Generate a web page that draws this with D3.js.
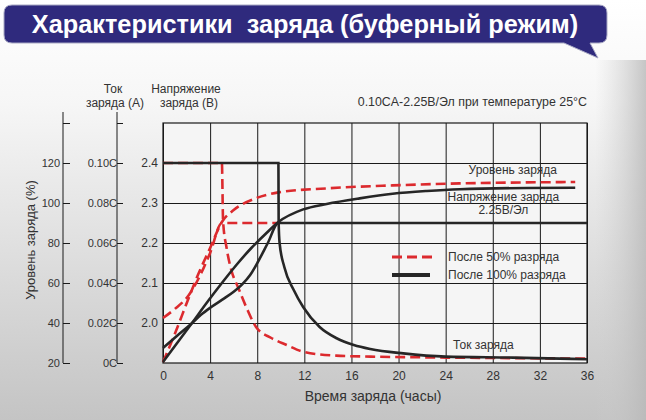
<!DOCTYPE html>
<html>
<head>
<meta charset="utf-8">
<script src="https://cdn.jsdelivr.net/npm/d3@7"></script>
<style>
  body { margin: 0; background: #fff; }
  svg { display: block; font-family: "Liberation Sans", Arial, sans-serif; }
</style>
</head>
<body>
<div id="chart"></div>
<script>
// Tick values for the three left axes and the time axis
const hourTicks = [0, 4, 8, 12, 16, 20, 24, 28, 32, 36];
const socTicks = [20, 40, 60, 80, 100, 120, 140];
const currentTicks = [0, 0.02, 0.04, 0.06, 0.08, 0.10, 0.12];
const currentLabels = ["0C", "0.02C", "0.04C", "0.06C", "0.08C", "0.10C", ""];
const voltTicks = [2.0, 2.1, 2.2, 2.3, 2.4];

// After 100% discharge (black solid): [hours, value]
const soc100 = [[0, 20.5], [1.2, 30], [2.4, 39.5], [3.7, 50], [5, 60], [6.3, 69.5], [7.5, 77.5],
    [8.7, 84.5], [9.8, 90.5], [11.9, 96.8], [13.9, 99.5], [16.7, 102.3], [19.5, 104.6],
    [22.4, 106], [25.2, 106.9], [30.9, 107.5], [35, 107.6]];
const volt100 = [[0, 1.9375], [1.2, 1.968], [2.4, 1.998], [3.2, 2.02], [4.1, 2.04], [5.2, 2.0615],
    [6, 2.078], [6.7, 2.096], [7.4, 2.12], [8.1, 2.155], [8.9, 2.2], [9.8, 2.25], [36, 2.25]];
const cur100 = [[0, 0.1], [9.8, 0.1], [9.82, 0.07], [9.9, 0.06], [10.3, 0.048], [11.1, 0.0365],
    [11.9, 0.028], [13.3, 0.018], [14.7, 0.0125], [16.2, 0.009], [17.6, 0.007], [20.4, 0.0048],
    [24, 0.0032], [29.7, 0.0027], [36, 0.0019]];

// After 50% discharge (red dashed)
const soc50 = [[0, 20.5], [1, 34.5], [2.15, 52], [3, 64.5], [4, 77.5], [5, 90.5], [6, 96.5],
    [7.8, 102.2], [9.8, 105.3], [13.9, 107.3], [19.5, 108.8], [25.2, 109.8], [30.9, 110.3], [35, 110.5]];
const volt50 = [[0, 2.0125], [1, 2.035], [2.15, 2.068], [3, 2.11], [4, 2.175], [5, 2.25], [9.8, 2.25]];
const cur50 = [[0, 0.1], [5, 0.1], [5.1, 0.071], [5.4, 0.0575], [5.8, 0.0465], [6.4, 0.0375],
    [7.1, 0.0275], [7.9, 0.018], [9.2, 0.0125], [10.5, 0.009], [11.9, 0.0056], [14.7, 0.0037],
    [17.6, 0.0032], [21.2, 0.0029], [28, 0.0025], [36, 0.0022]];

const W = 646, H = 420;
const plot = {left: 163, right: 587, top: 123, bottom: 363};
const RED = "#dc2a2e", BLACK = "#262626", TXT = "#333";

const svg = d3.select("#chart").append("svg")
    .attr("width", W).attr("height", H);

// Background gradients
const defs = svg.append("defs");
const bg = defs.append("linearGradient").attr("id", "bg")
    .attr("x1", 0).attr("y1", 0).attr("x2", 0).attr("y2", 1);
bg.append("stop").attr("offset", "0%").attr("stop-color", "#ffffff");
bg.append("stop").attr("offset", "25%").attr("stop-color", "#f6f6f6");
bg.append("stop").attr("offset", "100%").attr("stop-color", "#c4c4c4");
const side = defs.append("linearGradient").attr("id", "side")
    .attr("x1", 0).attr("y1", 0).attr("x2", 1).attr("y2", 0);
side.append("stop").attr("offset", "0%").attr("stop-color", "#d0d0d0").attr("stop-opacity", 0);
side.append("stop").attr("offset", "100%").attr("stop-color", "#b8b8b8").attr("stop-opacity", 0.8);

svg.append("rect").attr("width", W).attr("height", H).attr("fill", "url(#bg)");
svg.append("rect").attr("x", 595).attr("y", 60).attr("width", W - 595).attr("height", H - 60)
    .attr("fill", "url(#side)");

// Title bubble
const bubble = d3.path();
const bx0 = 4, bx1 = 607, by0 = 5, by1 = 43, r = 8;
bubble.moveTo(bx0 + r, by0);
bubble.lineTo(bx1 - r, by0);
bubble.quadraticCurveTo(bx1, by0, bx1, by0 + r);
bubble.lineTo(bx1, by1 - r);
bubble.quadraticCurveTo(bx1, by1, bx1 - r, by1);
bubble.lineTo(590, by1);
bubble.lineTo(598, 58);
bubble.lineTo(564, by1);
bubble.lineTo(bx0 + r, by1);
bubble.quadraticCurveTo(bx0, by1, bx0, by1 - r);
bubble.lineTo(bx0, by0 + r);
bubble.quadraticCurveTo(bx0, by0, bx0 + r, by0);
bubble.closePath();
svg.append("path").attr("d", bubble.toString())
    .attr("fill", "#2f2a7d").attr("stroke", "#a9a9c4").attr("stroke-width", 1);
svg.append("text").text("Характеристики  заряда (буферный режим)")
    .attr("x", 305).attr("y", 33).attr("text-anchor", "middle")
    .attr("fill", "#fff").style("font-weight", "bold").style("font-size", "25.3px")
    .style("white-space", "pre");

// Scales
const x = d3.scaleLinear().domain([0, 36]).range([plot.left, plot.right]);
const yV = d3.scaleLinear().domain([1.9, 2.5]).range([plot.bottom, plot.top]);
const yS = d3.scaleLinear().domain([20, 140]).range([plot.bottom, plot.top]);
const yC = d3.scaleLinear().domain([0, 0.12]).range([plot.bottom, plot.top]);

// Plot area
svg.append("rect")
    .attr("x", plot.left).attr("y", plot.top)
    .attr("width", plot.right - plot.left).attr("height", plot.bottom - plot.top)
    .attr("fill", "#f5f5f5");

const grid = svg.append("g");
grid.append("g")
    .attr("transform", `translate(0,${plot.bottom})`)
    .call(d3.axisBottom(x).tickValues(hourTicks).tickSize(-(plot.bottom - plot.top)).tickPadding(8))
    .call(g => g.selectAll("text").style("font-size", "12px").attr("fill", TXT));
grid.append("g")
    .attr("transform", `translate(${plot.left},0)`)
    .call(d3.axisLeft(yV).tickValues(voltTicks).tickSize(-(plot.right - plot.left))
        .tickPadding(5).tickFormat(d3.format(".1f")))
    .call(g => g.selectAll("text").style("font-size", "12px").attr("fill", TXT));
grid.selectAll(".domain").remove();
grid.selectAll(".tick line").attr("stroke", "#1a1a1a").attr("stroke-width", 1);
svg.append("rect")
    .attr("x", plot.left).attr("y", plot.top)
    .attr("width", plot.right - plot.left).attr("height", plot.bottom - plot.top)
    .attr("fill", "none").attr("stroke", "#1a1a1a").attr("stroke-width", 1.2);

// SOC axis
const socAxis = svg.append("g").attr("transform", "translate(63,0)");
socAxis.call(d3.axisRight(yS).tickValues(socTicks).tickSize(7).tickFormat(d => d === 140 ? "" : d));
socAxis.select(".domain").attr("d", `M0,112V${plot.bottom}`);
socAxis.selectAll("text").attr("x", -3).attr("text-anchor", "end")
    .style("font-size", "11px").attr("fill", TXT);

// Current axis
const curAxis = svg.append("g").attr("transform", "translate(117,0)");
curAxis.call(d3.axisRight(yC).tickValues(currentTicks).tickSize(6)
    .tickFormat((d, i) => currentLabels[i]));
curAxis.select(".domain").attr("d", `M0,112V${plot.bottom}`);
curAxis.selectAll("text").attr("x", 0).attr("text-anchor", "end")
    .style("font-size", "11px").attr("fill", TXT);
svg.selectAll(".domain, .tick line").attr("stroke", "#1a1a1a");

// Axis titles
const titles = [
    {t: "Ток", x: 113, y: 93}, {t: "заряда (А)", x: 115, y: 107},
    {t: "Напряжение", x: 186, y: 93}, {t: "заряда (В)", x: 189, y: 107}
];
svg.selectAll("text.ttl").data(titles).join("text").attr("class", "ttl")
    .text(d => d.t).attr("x", d => d.x).attr("y", d => d.y)
    .attr("text-anchor", "middle").style("font-size", "12px").attr("fill", TXT);
svg.append("text").text("Уровень заряда (%)")
    .attr("transform", "translate(35,240) rotate(-90)")
    .attr("text-anchor", "middle").style("font-size", "13px").attr("fill", TXT);
svg.append("text").text("Время заряда (часы)")
    .attr("x", 373).attr("y", 401).attr("text-anchor", "middle")
    .style("font-size", "14px").attr("fill", TXT);
svg.append("text").text("0.10CA-2.25В/Эл при температуре 25°C")
    .attr("x", plot.right).attr("y", 106).attr("text-anchor", "end")
    .style("font-size", "12.4px").attr("fill", TXT);

// Curves
const curve = d3.curveMonotoneX;
const lineS = d3.line().x(d => x(d[0])).y(d => yS(d[1])).curve(curve);
const lineV = d3.line().x(d => x(d[0])).y(d => yV(d[1])).curve(curve);
const lineC = d3.line().x(d => x(d[0])).y(d => yC(d[1])).curve(curve);

const series = [
    {d: soc50, line: lineS, dashed: true},
    {d: volt50, line: lineV, dashed: true},
    {d: cur50, line: lineC, dashed: true},
    {d: soc100, line: lineS, dashed: false},
    {d: volt100, line: lineV, dashed: false},
    {d: cur100, line: lineC, dashed: false}
];
svg.append("g").selectAll("path").data(series).join("path")
    .attr("d", s => s.line(s.d))
    .attr("fill", "none")
    .attr("stroke", s => s.dashed ? RED : BLACK)
    .attr("stroke-width", 2.6)
    .attr("stroke-dasharray", s => s.dashed ? "10,5" : null);

// Curve labels
const notes = [
    {t: "Уровень заряда", h: 29.7, y: 174},
    {t: "Напряжение заряда", h: 28.9, y: 201},
    {t: "2.25В/Эл", h: 28.9, y: 214},
    {t: "Ток заряда", h: 27.2, y: 349}
];
svg.selectAll("text.note").data(notes).join("text").attr("class", "note")
    .text(d => d.t).attr("x", d => x(d.h)).attr("y", d => d.y)
    .attr("text-anchor", "middle").style("font-size", "12px").attr("fill", TXT);

// Legend
const legend = svg.append("g").attr("transform", "translate(392,0)");
const legendItems = [
    {t: "После 50% разряда", y: 257, dashed: true},
    {t: "После 100% разряда", y: 275, dashed: false}
];
legend.selectAll("line").data(legendItems).join("line")
    .attr("x1", 0).attr("x2", d => d.dashed ? 42 : 38)
    .attr("y1", d => d.y).attr("y2", d => d.y)
    .attr("stroke", d => d.dashed ? RED : BLACK)
    .attr("stroke-width", d => d.dashed ? 3 : 4)
    .attr("stroke-dasharray", d => d.dashed ? "10,5" : null);
legend.selectAll("text").data(legendItems).join("text")
    .text(d => d.t).attr("x", 56).attr("y", d => d.y + 4)
    .style("font-size", "12px").attr("fill", TXT);
</script>
</body>
</html>
